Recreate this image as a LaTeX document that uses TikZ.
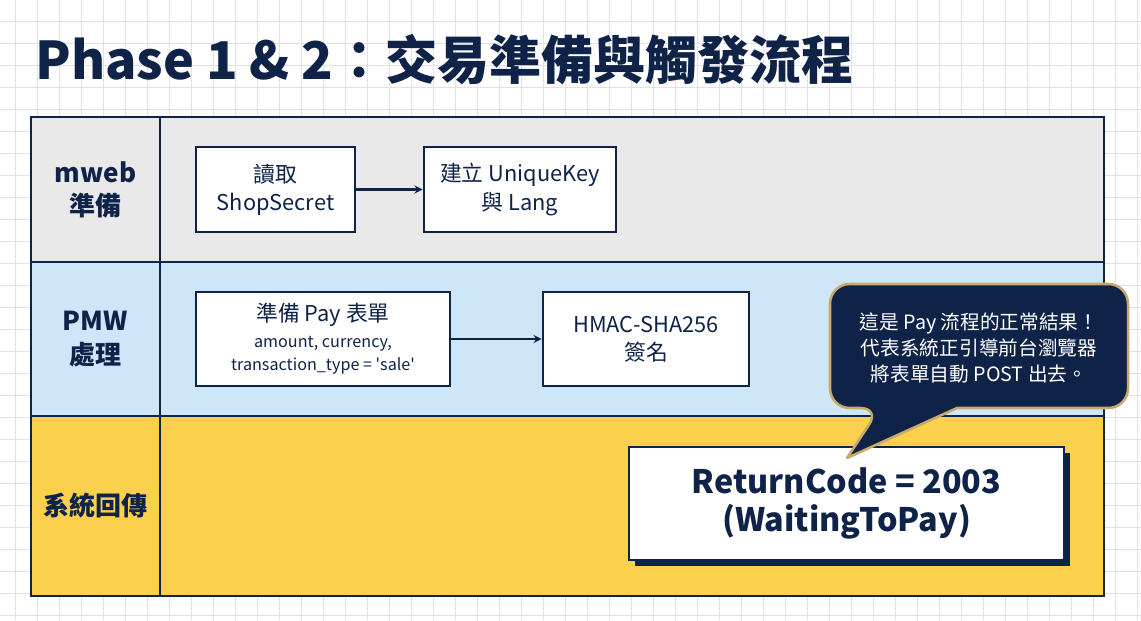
\documentclass[tikz,border=0pt]{standalone}
\usepackage{fontspec}
\setmainfont{Noto Sans CJK TC}
\usetikzlibrary{arrows,positioning,shadows}

\definecolor{navy}{RGB}{15,35,72}
\definecolor{gridgrey}{RGB}{226,226,228}
\definecolor{lanegrey}{RGB}{233,233,234}
\definecolor{laneblue}{RGB}{206,231,248}
\definecolor{laneyellow}{RGB}{250,208,76}
\definecolor{gold}{RGB}{200,168,107}

\begin{document}
\begin{tikzpicture}[x=0.025cm, y=-0.025cm,
  gridline/.style={draw=gridgrey, line width=0.6pt},
  lanebox/.style={draw=navy, line width=2pt},
  lanelabel/.style={font=\bfseries\fontsize{18.5}{24}\selectfont, text=navy, align=center},
  stepbox/.style={rectangle, draw=navy, fill=white, line width=1.8pt, align=center, text=navy, font=\fontsize{15.5}{20}\selectfont, inner sep=2pt},
  resultbox/.style={rectangle, draw=navy, fill=white, line width=1.8pt, align=center, text=navy, font=\bfseries\fontsize{23}{26.5}\selectfont, drop shadow={shadow xshift=1.4mm, shadow yshift=-1.4mm, fill=navy, opacity=1}},
  bubble/.style={fill=navy, draw=gold, line width=1.8pt, line join=round},
  arrow/.style={->, >=stealth, line width=1.6pt, draw=navy}
]
\useasboundingbox (0,0) rectangle (1141,620);
\fill[white] (0,0) rectangle (1141,620);

% background grid
\foreach \gx in {15,37,...,1141} \draw[gridline] (\gx,0) -- (\gx,620);
\foreach \gy in {21,43,...,620} \draw[gridline] (0,\gy) -- (1141,\gy);

\node[anchor=base west, inner sep=0, text=navy, font=\bfseries\fontsize{37}{40}\selectfont] (title) at (35,79) {Phase 1 \& 2：交易準備與觸發流程};

% swimlanes
\fill[lanegrey] (31,117) rectangle (1104,262);
\fill[laneblue] (31,262) rectangle (1104,416);
\fill[laneyellow] (31,416) rectangle (1104,596);
\draw[lanebox] (31,117) rectangle (1104,596);
\draw[lanebox] (160,117) -- (160,596);
\draw[lanebox] (31,262) -- (1104,262);
\draw[lanebox] (31,416) -- (1104,416);

\node[lanelabel] (mweblbl) at (95.5,190) {mweb\\準備};
\node[lanelabel] (pmwlbl) at (95.5,339) {PMW\\處理};
\node[lanelabel] (syslbl) at (95.5,506) {系統回傳};

% mweb
\node[stepbox, minimum width=3.975cm, minimum height=2.125cm] (shop) at (275.5,189.5) {讀取\\ShopSecret};
\node[stepbox, minimum width=4.8cm, minimum height=2.125cm] (ukey) at (520,189.5) {建立 UniqueKey\\與 Lang};
\draw[arrow] (shop) -- (ukey);

% PMW
\node[stepbox, minimum width=6.35cm, minimum height=2.35cm] (payform) at (323,339) {準備 Pay 表單\\[-2pt]{\fontsize{11.5}{15}\selectfont amount, currency,}\\[-3pt]{\fontsize{11.5}{15}\selectfont transaction\_type = \textquotesingle sale\textquotesingle}};
\node[stepbox, minimum width=5.15cm, minimum height=2.35cm] (hmac) at (646,339) {HMAC-SHA256\\簽名};
\draw[arrow] (payform) -- (hmac);

% result
\node[resultbox, minimum width=10.875cm, minimum height=2.825cm] (retcode) at (846.5,503.5) {ReturnCode = 2003\\(WaitingToPay)};

% callout
\draw[bubble] (880,408) -- (847,458) -- (957,408) [rounded corners=14pt] -- (1128,408) -- (1128,284) -- (830,284) -- (830,408) -- cycle;
\node[text=white, align=center, font=\fontsize{14}{18.5}\selectfont] (note) at (979,348) {這是 Pay 流程的正常結果！\\代表系統正引導前台瀏覽器\\將表單自動 POST 出去。};

\end{tikzpicture}
\end{document}
